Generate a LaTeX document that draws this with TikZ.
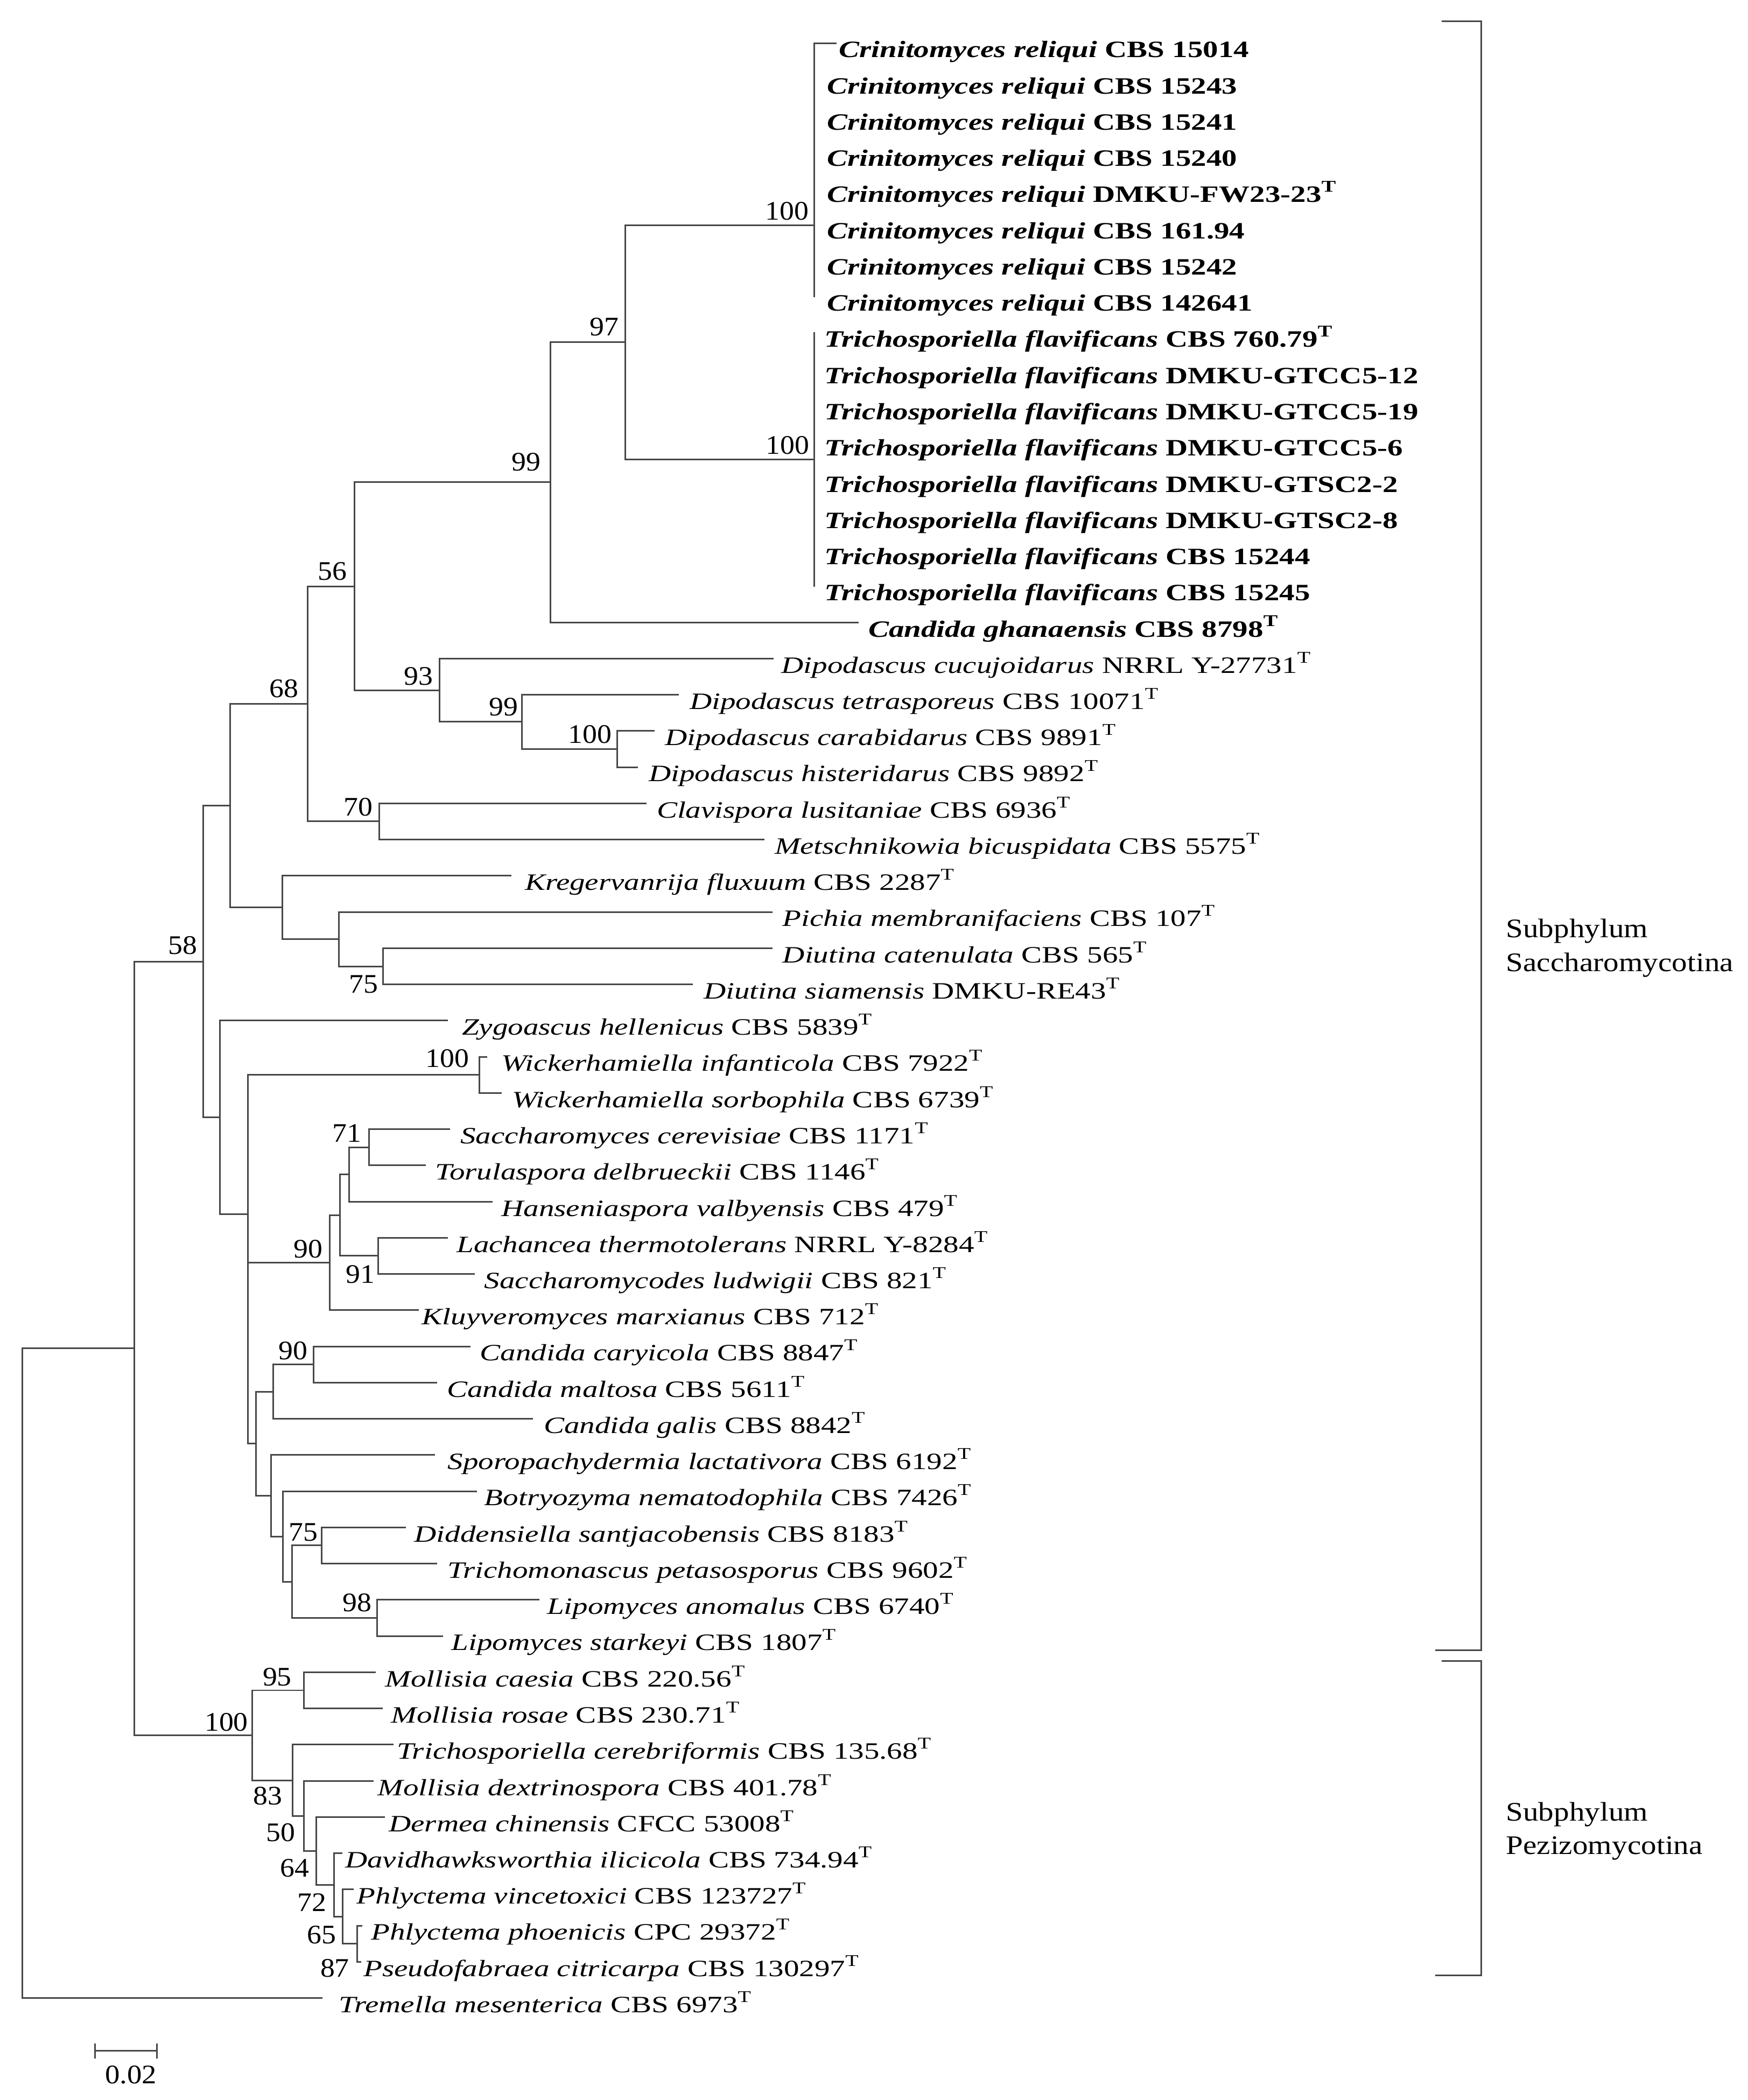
\documentclass[tikz,border=0pt]{standalone}
\usepackage{fontspec}
\setmainfont{Liberation Serif}
\usepackage{graphicx}
\usetikzlibrary{calc}
\newcommand{\lbl}[2]{\scalebox{1.31}[1]{\textit{#1} #2}}
\newcommand{\blbl}[2]{\scalebox{1.31}[1]{\bfseries\textit{#1} #2}}
\newcommand{\typeT}{\textsuperscript{T}}
\newcommand{\bsv}[1]{\scalebox{1.08}[1]{#1}}
\tikzset{
  br/.style={draw=black!72, line width=0.6pt, line cap=rect},
  leaf/.style={anchor=base west, inner sep=0pt, font=\fontsize{8.75}{10}\selectfont},
  bs/.style={anchor=center, inner sep=0pt, font=\fontsize{10}{12}\selectfont},
  sub/.style={anchor=base west, inner sep=0pt, font=\fontsize{10}{12}\selectfont},
}
\begin{document}
\begin{tikzpicture}[x=0.5pt,y=-0.5pt]
\fill[white] (0,0) rectangle (1305,1568);
\useasboundingbox (0,0) rectangle (1305,1568);

% ---------- tips ----------
\foreach \i/\tx in {1/624,2/607.8,3/607.8,4/607.8,5/607.8,6/607.8,7/607.8,8/607.8,
  9/607.8,10/607.8,11/607.8,12/607.8,13/607.8,14/607.8,15/607.8,16/607.8,
  17/640.6,18/576.8,19/506.4,20/488,21/475.6,22/482,23/570,24/381.3,25/576,26/576,
  27/516.6,28/334,29/363.3,30/374,31/335.6,32/317.3,33/367.3,34/333.9,35/354,
  36/312.3,37/350.6,38/325.6,39/397.3,40/324,41/355.6,42/302.3,43/325.6,44/402.3,
  45/330,46/280,47/285,48/293.3,49/278.3,50/286.7,51/255,52/263.3,53/270,54/269.3,55/240}
  \coordinate (t\i) at (\tx,{32.2+27.03*(\i-1)});

% ---------- internal nodes ----------
\coordinate (root) at (16.8,1006.85);
\coordinate (nA) at (100.2,1006.85);
\coordinate (n58) at (151.7,718.0);
\coordinate (nB) at (172,601.6);
\coordinate (n68) at (229.6,525.7);
\coordinate (n56) at (264.5,437.85);
\coordinate (n99) at (411,360.1);
\coordinate (n97) at (466.9,255.5);
\coordinate (nCr) at (607.8,168.2);
\coordinate (nTr) at (607.8,343.05);
\coordinate (n93) at (328,515.6);
\coordinate (n99b) at (389.5,539.0);
\coordinate (n100d) at (461,559.3);
\coordinate (n70) at (283,613.35);
\coordinate (nKr) at (211,677.55);
\coordinate (nPD) at (253,701.2);
\coordinate (n75a) at (285.8,721.5);
\coordinate (nC) at (164,834.25);
\coordinate (nX) at (184.9,906.5);
\coordinate (nWk) at (357.9,802.55);
\coordinate (nY) at (184.9,1010.4);
\coordinate (n90a) at (246.3,942.8);
\coordinate (n254) at (254,907.3);
\coordinate (n260) at (260.6,876.9);
\coordinate (n71) at (275.6,856.6);
\coordinate (n91) at (282.3,937.7);
\coordinate (n191) at (191.3,1078.0);
\coordinate (n204) at (204,1039.1);
\coordinate (n90b) at (234,1018.8);
\coordinate (n202) at (202.3,1116.8);
\coordinate (n211) at (211.3,1147.2);
\coordinate (n218) at (218,1181.0);
\coordinate (n75b) at (240,1153.95);
\coordinate (n98) at (281.6,1208.0);
\coordinate (nPz) at (188.3,1295.7);
\coordinate (n95) at (226.7,1262.1);
\coordinate (n83) at (218.3,1329.25);
\coordinate (n50) at (226.7,1355.9);
\coordinate (n64) at (236,1382.05);
\coordinate (n72) at (249.3,1407.4);
\coordinate (n65) at (256,1431.05);
\coordinate (n87) at (266.7,1451.3);

% ---------- branches ----------
\foreach \p/\c in {root/nA,root/t55,nA/n58,nA/nPz,n58/nB,n58/nC,nB/n68,nB/nKr,
  n68/n56,n68/n70,n56/n99,n56/n93,n99/n97,n99/t17,n97/nCr,n97/nTr,
  nCr/t1,nCr/t2,nCr/t3,nCr/t4,nCr/t5,nCr/t6,nCr/t7,nCr/t8,
  nTr/t9,nTr/t10,nTr/t11,nTr/t12,nTr/t13,nTr/t14,nTr/t15,nTr/t16,
  n93/t18,n93/n99b,n99b/t19,n99b/n100d,n100d/t20,n100d/t21,n70/t22,n70/t23,
  nKr/t24,nKr/nPD,nPD/t25,nPD/n75a,n75a/t26,n75a/t27,nC/t28,nC/nX,nX/nWk,nX/nY,
  nWk/t29,nWk/t30,nY/n90a,nY/n191,n90a/n254,n90a/t36,n254/n260,n254/n91,
  n260/n71,n260/t33,n71/t31,n71/t32,n91/t34,n91/t35,n191/n204,n191/n202,
  n204/n90b,n204/t39,n90b/t37,n90b/t38,n202/t40,n202/n211,n211/t41,n211/n218,
  n218/n75b,n218/n98,n75b/t42,n75b/t43,n98/t44,n98/t45,nPz/n95,nPz/n83,
  n95/t46,n95/t47,n83/t48,n83/n50,n50/t49,n50/n64,n64/t50,n64/n72,
  n72/t51,n72/n65,n65/t52,n65/n87,n87/t53,n87/t54}
  \draw[br] (\p) |- (\c);

% ---------- leaf labels ----------
\node[leaf] (L1) at (626,43.0) {\blbl{Crinitomyces reliqui}{CBS 15014}};
\node[leaf] (L2) at (617,70.0) {\blbl{Crinitomyces reliqui}{CBS 15243}};
\node[leaf] (L3) at (617,97.1) {\blbl{Crinitomyces reliqui}{CBS 15241}};
\node[leaf] (L4) at (617,124.1) {\blbl{Crinitomyces reliqui}{CBS 15240}};
\node[leaf] (L5) at (617,151.1) {\blbl{Crinitomyces reliqui}{DMKU-FW23-23\typeT}};
\node[leaf] (L6) at (617,178.2) {\blbl{Crinitomyces reliqui}{CBS 161.94}};
\node[leaf] (L7) at (617,205.2) {\blbl{Crinitomyces reliqui}{CBS 15242}};
\node[leaf] (L8) at (617,232.2) {\blbl{Crinitomyces reliqui}{CBS 142641}};
\node[leaf] (L9) at (615,259.2) {\blbl{Trichosporiella flavificans}{CBS 760.79\typeT}};
\node[leaf] (L10) at (615,286.3) {\blbl{Trichosporiella flavificans}{DMKU-GTCC5-12}};
\node[leaf] (L11) at (615,313.3) {\blbl{Trichosporiella flavificans}{DMKU-GTCC5-19}};
\node[leaf] (L12) at (615,340.3) {\blbl{Trichosporiella flavificans}{DMKU-GTCC5-6}};
\node[leaf] (L13) at (615,367.4) {\blbl{Trichosporiella flavificans}{DMKU-GTSC2-2}};
\node[leaf] (L14) at (615,394.4) {\blbl{Trichosporiella flavificans}{DMKU-GTSC2-8}};
\node[leaf] (L15) at (615,421.4) {\blbl{Trichosporiella flavificans}{CBS 15244}};
\node[leaf] (L16) at (615,448.5) {\blbl{Trichosporiella flavificans}{CBS 15245}};
\node[leaf] (L17) at (648,475.5) {\blbl{Candida ghanaensis}{CBS 8798\typeT}};
\node[leaf] (L18) at (583,502.5) {\lbl{Dipodascus cucujoidarus}{NRRL Y-27731\typeT}};
\node[leaf] (L19) at (514.6,529.5) {\lbl{Dipodascus tetrasporeus}{CBS 10071\typeT}};
\node[leaf] (L20) at (496,556.6) {\lbl{Dipodascus carabidarus}{CBS 9891\typeT}};
\node[leaf] (L21) at (484,583.6) {\lbl{Dipodascus histeridarus}{CBS 9892\typeT}};
\node[leaf] (L22) at (490,610.6) {\lbl{Clavispora lusitaniae}{CBS 6936\typeT}};
\node[leaf] (L23) at (578,637.7) {\lbl{Metschnikowia bicuspidata}{CBS 5575\typeT}};
\node[leaf] (L24) at (391.5,664.7) {\lbl{Kregervanrija fluxuum}{CBS 2287\typeT}};
\node[leaf] (L25) at (584,691.7) {\lbl{Pichia membranifaciens}{CBS 107\typeT}};
\node[leaf] (L26) at (584,718.8) {\lbl{Diutina catenulata}{CBS 565\typeT}};
\node[leaf] (L27) at (525,745.8) {\lbl{Diutina siamensis}{DMKU-RE43\typeT}};
\node[leaf] (L28) at (344.5,772.8) {\lbl{Zygoascus hellenicus}{CBS 5839\typeT}};
\node[leaf] (L29) at (374,799.8) {\lbl{Wickerhamiella infanticola}{CBS 7922\typeT}};
\node[leaf] (L30) at (382,826.9) {\lbl{Wickerhamiella sorbophila}{CBS 6739\typeT}};
\node[leaf] (L31) at (343.3,853.9) {\lbl{Saccharomyces cerevisiae}{CBS 1171\typeT}};
\node[leaf] (L32) at (324.6,880.9) {\lbl{Torulaspora delbrueckii}{CBS 1146\typeT}};
\node[leaf] (L33) at (374,908.0) {\lbl{Hanseniaspora valbyensis}{CBS 479\typeT}};
\node[leaf] (L34) at (340.6,935.0) {\lbl{Lachancea thermotolerans}{NRRL Y-8284\typeT}};
\node[leaf] (L35) at (361.3,962.0) {\lbl{Saccharomycodes ludwigii}{CBS 821\typeT}};
\node[leaf] (L36) at (314.6,989.1) {\lbl{Kluyveromyces marxianus}{CBS 712\typeT}};
\node[leaf] (L37) at (358,1016.1) {\lbl{Candida caryicola}{CBS 8847\typeT}};
\node[leaf] (L38) at (333.3,1043.1) {\lbl{Candida maltosa}{CBS 5611\typeT}};
\node[leaf] (L39) at (405.6,1070.2) {\lbl{Candida galis}{CBS 8842\typeT}};
\node[leaf] (L40) at (334,1097.2) {\lbl{Sporopachydermia lactativora}{CBS 6192\typeT}};
\node[leaf] (L41) at (361.3,1124.2) {\lbl{Botryozyma nematodophila}{CBS 7426\typeT}};
\node[leaf] (L42) at (309,1151.2) {\lbl{Diddensiella santjacobensis}{CBS 8183\typeT}};
\node[leaf] (L43) at (334,1178.3) {\lbl{Trichomonascus petasosporus}{CBS 9602\typeT}};
\node[leaf] (L44) at (408,1205.3) {\lbl{Lipomyces anomalus}{CBS 6740\typeT}};
\node[leaf] (L45) at (336.7,1232.3) {\lbl{Lipomyces starkeyi}{CBS 1807\typeT}};
\node[leaf] (L46) at (287.3,1259.4) {\lbl{Mollisia caesia}{CBS 220.56\typeT}};
\node[leaf] (L47) at (291.7,1286.4) {\lbl{Mollisia rosae}{CBS 230.71\typeT}};
\node[leaf] (L48) at (296,1313.4) {\lbl{Trichosporiella cerebriformis}{CBS 135.68\typeT}};
\node[leaf] (L49) at (281.7,1340.5) {\lbl{Mollisia dextrinospora}{CBS 401.78\typeT}};
\node[leaf] (L50) at (290,1367.5) {\lbl{Dermea chinensis}{CFCC 53008\typeT}};
\node[leaf] (L51) at (257.3,1394.5) {\lbl{Davidhawksworthia ilicicola}{CBS 734.94\typeT}};
\node[leaf] (L52) at (266,1421.6) {\lbl{Phlyctema vincetoxici}{CBS 123727\typeT}};
\node[leaf] (L53) at (276.7,1448.6) {\lbl{Phlyctema phoenicis}{CPC 29372\typeT}};
\node[leaf] (L54) at (271,1475.6) {\lbl{Pseudofabraea citricarpa}{CBS 130297\typeT}};
\node[leaf] (L55) at (252.7,1502.7) {\lbl{Tremella mesenterica}{CBS 6973\typeT}};

% ---------- bootstrap values ----------
\node[bs] (b100c) at (587.5,157.5) {\bsv{100}};
\node[bs] (b97) at (451,244) {\bsv{97}};
\node[bs] (b99) at (393,345) {\bsv{99}};
\node[bs] (b100t) at (588,332.5) {\bsv{100}};
\node[bs] (b56) at (248,426.5) {\bsv{56}};
\node[bs] (b93) at (312.5,505) {\bsv{93}};
\node[bs] (b99d) at (376,528) {\bsv{99}};
\node[bs] (b100d) at (440.5,548.5) {\bsv{100}};
\node[bs] (b68) at (212,514) {\bsv{68}};
\node[bs] (b70) at (267.5,602.5) {\bsv{70}};
\node[bs] (b75a) at (271.5,735) {\bsv{75}};
\node[bs] (b58) at (136.3,706) {\bsv{58}};
\node[bs] (b100w) at (334,790.5) {\bsv{100}};
\node[bs] (b71) at (259,846) {\bsv{71}};
\node[bs] (b91) at (269,951.5) {\bsv{91}};
\node[bs] (b90a) at (230,932.5) {\bsv{90}};
\node[bs] (b90b) at (219,1008.7) {\bsv{90}};
\node[bs] (b75b) at (226.5,1144) {\bsv{75}};
\node[bs] (b98) at (266.5,1196.5) {\bsv{98}};
\node[bs] (b95) at (207,1252) {\bsv{95}};
\node[bs] (b100p) at (169,1286) {\bsv{100}};
\node[bs] (b83) at (200,1341) {\bsv{83}};
\node[bs] (b50) at (209.7,1368.4) {\bsv{50}};
\node[bs] (b64) at (220,1394.7) {\bsv{64}};
\node[bs] (b72) at (233,1420.3) {\bsv{72}};
\node[bs] (b65) at (240.3,1444.7) {\bsv{65}};
\node[bs] (b87) at (250,1469.6) {\bsv{87}};

% ---------- brackets ----------
\coordinate (s1a) at (1077,15.8);
\coordinate (s1b) at (1106,15.8);
\coordinate (s1c) at (1106,1232);
\coordinate (s1d) at (1072,1232);
\coordinate (s2a) at (1077,1240);
\coordinate (s2b) at (1106,1240);
\coordinate (s2c) at (1106,1474.8);
\coordinate (s2d) at (1072,1474.8);
\draw[br] (s1a) -- (s1b) -- (s1c) -- (s1d);
\draw[br] (s2a) -- (s2b) -- (s2c) -- (s2d);
\node[sub] (sac1) at (1124,699.8) {\scalebox{1.15}[1]{Subphylum}};
\node[sub] (sac2) at (1124,725.2) {\scalebox{1.15}[1]{Saccharomycotina}};
\node[sub] (pez1) at (1124,1359.5) {\scalebox{1.15}[1]{Subphylum}};
\node[sub] (pez2) at (1124,1384.5) {\scalebox{1.15}[1]{Pezizomycotina}};

% ---------- scale bar ----------
\coordinate (sbL) at (71,1531.3);
\coordinate (sbR) at (117.3,1531.3);
\draw[br] (sbL) -- (sbR);
\draw[br] ($(sbL)+(0,-5)$) -- ($(sbL)+(0,5)$);
\draw[br] ($(sbR)+(0,-5)$) -- ($(sbR)+(0,5)$);
\node[bs] (sblab) at (97.7,1549.3) {\scalebox{1.1}[1]{0.02}};
\end{tikzpicture}
\end{document}
